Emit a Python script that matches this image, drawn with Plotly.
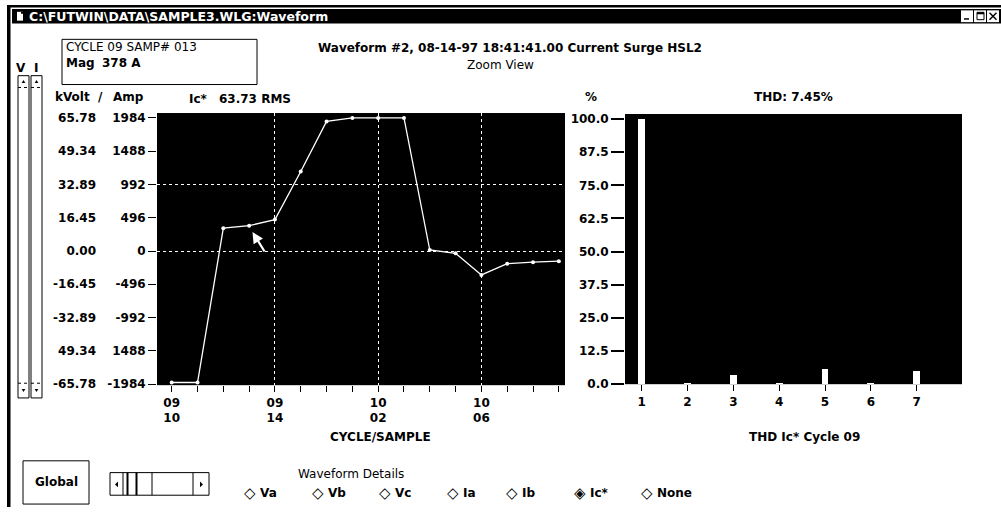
import plotly.graph_objects as go

W, H = 1001, 514


def px(x):
    return x / W


def py(y):
    return 1 - y / H


# ---------------- data ----------------
sample_labels = ["09/10", "09/11", "09/12", "09/13", "09/14", "09/15", "09/16", "10/01",
                 "10/02", "10/03", "10/04", "10/05", "10/06", "10/07", "10/08", "10/09"]
labeled_samples = ["09/10", "09/14", "10/02", "10/06"]
grid_samples = ["09/14", "10/02", "10/06"]
ic_amps = [-1960, -1960, 340, 378, 468, 1186, 1932, 1984, 1984, 1984, 15, -34, -356, -190, -166, -151]

amp_ticks = [1984, 1488, 992, 496, 0, -496, -992, -1488, -1984]
amp_tick_text = ["1984", "1488", "992", "496", "0", "-496", "-992", "1488", "-1984"]
kvolt_tick_text = ["65.78", "49.34", "32.89", "16.45", "0.00", "-16.45", "-32.89", "49.34", "-65.78"]
grid_amps = [992, 0]

harmonic_orders = [1, 2, 3, 4, 5, 6, 7]
harmonic_pct = [100.0, 0.4, 3.3, 0.4, 5.6, 0.4, 5.1]
pct_ticks = [0, 12.5, 25, 37.5, 50, 62.5, 75, 87.5, 100]
pct_tick_text = ["0.0", "12.5", "25.0", "37.5", "50.0", "62.5", "75.0", "87.5", "100.0"]

radio_labels = ["Va", "Vb", "Vc", "Ia", "Ib", "Ic*", "None"]
radio_selected = "Ic*"

# ---------------- figure ----------------
x_idx = list(range(len(sample_labels)))
x_text = [s.replace("/", "<br>") if s in labeled_samples else "" for s in sample_labels]
grid_idx = [sample_labels.index(s) for s in grid_samples]

FONT = "DejaVu Sans"
tickfont = dict(family=FONT, size=12, color="black", weight="bold")

fig = go.Figure()

fig.add_trace(go.Scatter(
    x=x_idx, y=ic_amps, mode="lines+markers",
    line=dict(color="white", width=1.3),
    marker=dict(color="white", size=4),
    xaxis="x", yaxis="y", hoverinfo="skip", showlegend=False,
))
# empty traces so the overlay axes get their subplots
fig.add_trace(go.Scatter(x=[], y=[], xaxis="x3", yaxis="y3", showlegend=False))
fig.add_trace(go.Scatter(x=[], y=[], xaxis="x3", yaxis="y4", showlegend=False))

fig.add_trace(go.Bar(
    x=harmonic_orders, y=harmonic_pct, width=0.15,
    marker=dict(color="white", line=dict(width=0)),
    xaxis="x2", yaxis="y2", hoverinfo="skip", showlegend=False,
))

x_range = [-0.57, 15.24]
y_range = [-2000, 2057]
left_dom_x = [px(157), px(565)]
left_dom_y = [py(390), py(113)]

layout = dict(
    width=W, height=H,
    margin=dict(l=0, r=0, t=0, b=0),
    paper_bgcolor="white", plot_bgcolor="black",
    showlegend=False,
    font=dict(family=FONT, size=12, color="black"),
    # left chart: main axes carry the dotted grid only
    xaxis=dict(domain=left_dom_x, range=x_range, tickmode="array", tickvals=grid_idx,
               showticklabels=False, ticks="", showgrid=True, gridcolor="white",
               griddash="dot", gridwidth=1, zeroline=False, showline=False, fixedrange=True),
    yaxis=dict(domain=left_dom_y, range=y_range, tickmode="array", tickvals=grid_amps,
               showticklabels=False, ticks="", showgrid=True, gridcolor="white",
               griddash="dot", gridwidth=1, zeroline=False, showline=False, fixedrange=True),
    # sample ticks/labels
    xaxis3=dict(overlaying="x", anchor="y", range=x_range, tickmode="array",
                tickvals=x_idx, ticktext=x_text, ticks="outside", ticklen=6,
                tickcolor="black", tickwidth=1, tickfont=tickfont, showgrid=False,
                zeroline=False, showline=False, side="bottom", fixedrange=True),
    # Amp ticks/labels
    yaxis3=dict(overlaying="y", anchor="x", range=y_range, tickmode="array",
                tickvals=amp_ticks, ticktext=amp_tick_text, ticks="outside", ticklen=8,
                tickcolor="black", tickwidth=1, tickfont=tickfont, showgrid=False,
                zeroline=False, showline=False, side="left", fixedrange=True),
    # kVolt labels
    yaxis4=dict(overlaying="y", anchor="free", position=px(96), range=y_range,
                tickmode="array", tickvals=amp_ticks, ticktext=kvolt_tick_text,
                ticks="", tickfont=tickfont, showgrid=False, zeroline=False,
                showline=False, side="left", fixedrange=True),
    # right chart
    xaxis2=dict(domain=[px(625), px(962)], anchor="y2", range=[0.635, 7.99],
                tickmode="array", tickvals=harmonic_orders,
                ticktext=[str(h) for h in harmonic_orders], ticks="outside", ticklen=6,
                tickcolor="black", tickfont=tickfont, showgrid=False, zeroline=False,
                showline=False, fixedrange=True),
    yaxis2=dict(domain=[py(389), py(114)], anchor="x2", range=[0, 101.9],
                tickmode="array", tickvals=pct_ticks, ticktext=pct_tick_text,
                ticks="outside", ticklen=13, tickcolor="black", tickwidth=1.5,
                tickfont=tickfont, showgrid=False, zeroline=False, showline=False,
                fixedrange=True),
    bargap=0,
)
fig.update_layout(**layout)

# ---------------- window chrome ----------------
shapes = []


def rect(x0, y0, x1, y1, fill=None, line="black", lw=1, dash=None):
    d = dict(type="rect", xref="paper", yref="paper",
             x0=px(x0), x1=px(x1), y0=py(y1), y1=py(y0), layer="above",
             line=dict(color=line, width=lw))
    if dash:
        d["line"]["dash"] = dash
    if fill:
        d["fillcolor"] = fill
    if lw == 0:
        d["line"] = dict(width=0)
    shapes.append(d)


def line(x0, y0, x1, y1, color="black", lw=1, dash=None):
    d = dict(type="line", xref="paper", yref="paper", x0=px(x0), x1=px(x1),
             y0=py(y0), y1=py(y1), layer="above", line=dict(color=color, width=lw))
    if dash:
        d["line"]["dash"] = dash
    shapes.append(d)


def tri(points, color="black"):
    path = "M " + " L ".join(f"{px(a)},{py(b)}" for a, b in points) + " Z"
    shapes.append(dict(type="path", xref="paper", yref="paper", path=path,
                       fillcolor=color, line=dict(width=0), layer="above"))


# frame
rect(7, 3, 10.5, 514, fill="black", lw=0)
rect(7, 3, 1001, 5.5, fill="black", lw=0)
rect(12, 7, 1001, 22, fill="black", lw=0)
# title icon
rect(17, 10, 23, 19, fill="white", lw=0)
rect(21, 10, 23, 12, fill="black", lw=0)
# title buttons
rect(961, 8.5, 973, 20.5, fill="white", lw=0)
rect(974, 8.5, 986, 20.5, fill="white", lw=0)
rect(987, 8.5, 999, 20.5, fill="white", lw=0)
rect(964, 16.5, 969, 18, fill="black", lw=0)
rect(977, 10.5, 984, 18, line="black", lw=1)
rect(977, 10.5, 984, 12.5, fill="black", lw=0)
line(989.5, 11, 996.5, 18, lw=1.4)
line(996.5, 11, 989.5, 18, lw=1.4)

# info box
rect(62, 38, 257, 84, line="black", lw=1)

# vertical scroll bars
for x0, x1 in [(18, 29), (31, 42)]:
    rect(x0, 75, x1, 403, line="black", lw=1)
    line(x0, 87, x1, 87, lw=1, dash="dot")
    line(x0, 388, x1, 388, lw=1, dash="dot")
    cx = (x0 + x1) / 2
    tri([(cx - 1.8, 82.5), (cx + 1.8, 82.5), (cx, 79.5)])
    tri([(cx - 1.8, 394), (cx + 1.8, 394), (cx, 397)])

# Global button
rect(23, 467, 89, 511, line="black", lw=1)

# horizontal scroll bar
rect(110, 479, 209, 502, line="black", lw=1)
for xv, w in [(123, 1), (127.5, 2), (136.5, 2), (152, 1), (193, 1)]:
    line(xv, 479, xv, 502, lw=w)
tri([(118, 488), (118, 494), (115, 491)])
tri([(200, 488), (200, 494), (203, 491)])

fig.update_layout(shapes=shapes)

# ---------------- texts ----------------
ann = []


def text(s, x, y, anchor="left", size=12, color="black", bold=True, family=FONT):
    ann.append(dict(text=s, x=px(x), y=py(y), xref="paper", yref="paper",
                    xanchor=anchor, yanchor="middle", showarrow=False,
                    font=dict(family=family, size=size, color=color,
                              weight="bold" if bold else "normal")))


text("C:\\FUTWIN\\DATA\\SAMPLE3.WLG:Waveform", 27, 14.5, size=12.5, color="white")
text("CYCLE 09 SAMP# 013", 64, 46, bold=False)
text("Mag", 64, 62)
text("378 A", 100, 62)
text("V", 21, 67, anchor="center")
text("I", 36, 67, anchor="center")
text("kVolt  /", 53, 97)
text("Amp", 111, 97)
text("Ic*", 187, 99)
text("63.73 RMS", 217, 99)
text("Waveform #2, 08-14-97 18:41:41.00 Current Surge HSL2", 510, 47, anchor="center")
text("Zoom View", 500, 64, anchor="center", bold=False)
text("%", 591, 97, anchor="center")
text("THD: 7.45%", 793, 97, anchor="center")
text("CYCLE/SAMPLE", 380, 443, anchor="center")
text("THD Ic* Cycle 09", 804, 443, anchor="center")
text("Global", 56, 489, anchor="center")
text("Waveform Details", 351, 480, anchor="center", bold=False)

radio_x = [245, 313, 380, 448, 507, 575, 642]
for lab, rx in zip(radio_labels, radio_x):
    mark = "◈" if lab == radio_selected else "◇"
    text(mark, rx + 5, 500, anchor="center", size=15, bold=False)
    text(lab, rx + 13, 500)

# arrow pointing at the selected sample
sel = sample_labels.index("09/13")
ann.append(dict(x=sel + 0.13, y=ic_amps[sel] - 95, xref="x", yref="y",
                ax=13, ay=21, axref="pixel", ayref="pixel", text="",
                showarrow=True, arrowhead=2, arrowsize=1, arrowwidth=2.2,
                arrowcolor="white"))

fig.update_layout(annotations=ann)

fig.write_html("out.html")
